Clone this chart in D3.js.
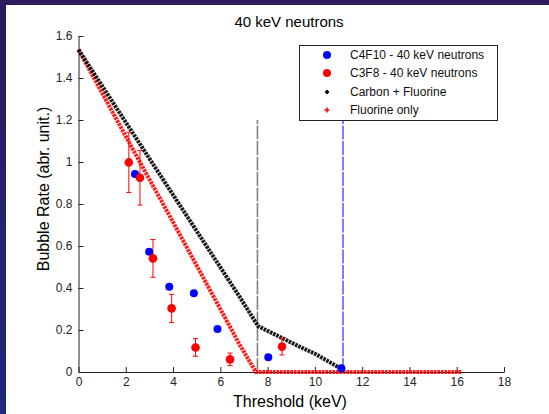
<!DOCTYPE html>
<html>
<head>
<meta charset="utf-8">
<script src="https://cdn.jsdelivr.net/npm/d3@7"></script>
<style>
  html, body { margin: 0; padding: 0; }
  body { width: 549px; height: 414px; overflow: hidden; }
  svg { display: block; font-family: "Liberation Sans", Arial, sans-serif; }
</style>
</head>
<body>
<svg id="chart" width="549" height="414"></svg>
<script>
// measured points
const c4f10X = [2.39, 2.99, 3.84, 4.88, 5.88, 8.03, 11.12];
const c4f10Y = [0.943, 0.573, 0.406, 0.375, 0.205, 0.07, 0.018];

const c3f8X = [2.13, 2.6, 3.15, 3.94, 4.95, 6.41, 8.61];
const c3f8Y = [0.998, 0.925, 0.541, 0.303, 0.117, 0.06, 0.121];
const c3f8Err = [0.143, 0.13, 0.09, 0.067, 0.042, 0.03, 0.04];

// calculated curves (vertices)
const carbonX = [0, 2.81, 6.82, 7.6, 9.4, 10, 11.2];
const carbonY = [1.535, 1.049, 0.357, 0.218, 0.118, 0.087, 0.01];

const fluorX = [0, 2.4, 3.98, 6.82, 7.5, 16.23];
const fluorY = [1.535, 1.04, 0.718, 0.13, 0, 0];

// threshold lines
const threshX = [7.57, 11.19];
const threshTop = [1.2, 1.55];
const threshColor = ["#808080", "#0000ff"];

const xTicks = [0, 2, 4, 6, 8, 10, 12, 14, 16, 18];
const yTicks = [0, 0.2, 0.4, 0.6, 0.8, 1, 1.2, 1.4, 1.6];

const legendLabels = ["C4F10 - 40 keV neutrons", "C3F8 - 40 keV neutrons", "Carbon + Fluorine", "Fluorine only"];

const svg = d3.select("#chart");

// slide background
const defs = svg.append("defs");
const grad = defs.append("linearGradient").attr("id", "bg").attr("x1", 0).attr("y1", 0).attr("x2", 0).attr("y2", 1);
grad.append("stop").attr("offset", "0%").attr("stop-color", "#2e1a5e");
grad.append("stop").attr("offset", "100%").attr("stop-color", "#1d2a76");
svg.append("rect").attr("width", 549).attr("height", 414).attr("fill", "url(#bg)");
svg.append("rect").attr("x", 6).attr("y", 5).attr("width", 543).attr("height", 409).attr("fill", "#fff");

const x = d3.scaleLinear().domain([0, 18]).range([78.5, 504]);
const y = d3.scaleLinear().domain([0, 1.6]).range([372, 36]);

// axes
const xAxis = svg.append("g")
  .attr("transform", `translate(0,${y(0)})`)
  .call(d3.axisBottom(x).tickValues(xTicks).tickSizeInner(-5).tickSizeOuter(0).tickPadding(5));
const yAxis = svg.append("g")
  .attr("transform", `translate(${x(0)},0)`)
  .call(d3.axisLeft(y).tickValues(yTicks).tickFormat(d => String(+d.toFixed(1))).tickSizeInner(-5).tickSizeOuter(0).tickPadding(6));

[xAxis, yAxis].forEach(g => {
  g.selectAll("text").attr("font-size", 12).attr("fill", "#222")
    .attr("font-family", "Liberation Sans, Arial, sans-serif");
  g.selectAll("line, path").attr("stroke", "#222");
});

// threshold lines
svg.append("g").selectAll("line")
  .data(threshX)
  .join("line")
  .attr("x1", d => x(d)).attr("x2", d => x(d))
  .attr("y1", y(0)).attr("y2", (d, i) => y(threshTop[i]))
  .attr("stroke", (d, i) => threshColor[i])
  .attr("stroke-width", (d, i) => i === 0 ? 1.6 : 1)
  .attr("stroke-dasharray", "14,1.5");

// dense calculated curves
const line = d3.line().x(d => x(d[0])).y(d => y(d[1]));
const fluorPts = d3.zip(fluorX, fluorY);
const carbonPts = d3.zip(carbonX, carbonY);

svg.append("path").datum(fluorPts)
  .attr("d", line).attr("fill", "none")
  .attr("stroke", "#ff0000").attr("stroke-width", 4)
  .attr("stroke-dasharray", "2.6,0.9").attr("opacity", 0.9);

svg.append("path").datum(carbonPts)
  .attr("d", line).attr("fill", "none")
  .attr("stroke", "#000").attr("stroke-width", 4)
  .attr("stroke-dasharray", "2.6,0.9").attr("opacity", 0.9);

// error bars for C3F8
const eb = svg.append("g").attr("stroke", "#ff0000").attr("stroke-width", 1);
c3f8X.forEach((d, i) => {
  const x0 = x(d), lo = y(c3f8Y[i] - c3f8Err[i]), hi = y(c3f8Y[i] + c3f8Err[i]);
  eb.append("line").attr("x1", x0).attr("x2", x0).attr("y1", lo).attr("y2", hi);
  eb.append("line").attr("x1", x0 - 2.5).attr("x2", x0 + 2.5).attr("y1", lo).attr("y2", lo);
  eb.append("line").attr("x1", x0 - 2.5).attr("x2", x0 + 2.5).attr("y1", hi).attr("y2", hi);
});

svg.append("g").selectAll("circle")
  .data(d3.zip(c4f10X, c4f10Y))
  .join("circle")
  .attr("cx", d => x(d[0])).attr("cy", d => y(d[1]))
  .attr("r", 4).attr("fill", "#0000ff");

svg.append("g").selectAll("circle")
  .data(d3.zip(c3f8X, c3f8Y))
  .join("circle")
  .attr("cx", d => x(d[0])).attr("cy", d => y(d[1]))
  .attr("r", 4.3).attr("fill", "#ff0000");

// titles
svg.append("text").attr("x", 289).attr("y", 27).attr("text-anchor", "middle")
  .attr("font-size", 15).attr("fill", "#000").text("40 keV neutrons");
svg.append("text").attr("x", 290).attr("y", 407).attr("text-anchor", "middle")
  .attr("font-size", 16).attr("fill", "#000").text("Threshold (keV)");
svg.append("text").attr("transform", "translate(49,189) rotate(-90)").attr("text-anchor", "middle")
  .attr("font-size", 16).attr("fill", "#000").text("Bubble Rate (abr. unit.)");

// legend
const lg = svg.append("g");
lg.append("rect").attr("x", 299.5).attr("y", 45.5).attr("width", 198).attr("height", 75)
  .attr("fill", "#fff").attr("stroke", "#222").attr("stroke-width", 1);
const rowY = [55, 73, 92, 110];
lg.append("circle").attr("cx", 327).attr("cy", rowY[0]).attr("r", 4).attr("fill", "#0000ff");
lg.append("circle").attr("cx", 327).attr("cy", rowY[1]).attr("r", 4).attr("fill", "#ff0000");
lg.append("path").attr("d", `M327,${rowY[2] - 2.5}L329.5,${rowY[2]}L327,${rowY[2] + 2.5}L324.5,${rowY[2]}Z`).attr("fill", "#000");
lg.append("path").attr("d", `M324.5,${rowY[3]}H329.5M327,${rowY[3] - 2.5}V${rowY[3] + 2.5}`)
  .attr("stroke", "#ff0000").attr("stroke-width", 1.5);
lg.selectAll("text.lbl")
  .data(legendLabels)
  .join("text")
  .attr("class", "lbl")
  .attr("x", 350).attr("y", (d, i) => rowY[i] + 4)
  .attr("font-size", 12).attr("fill", "#111")
  .text(d => d);
</script>
</body>
</html>
